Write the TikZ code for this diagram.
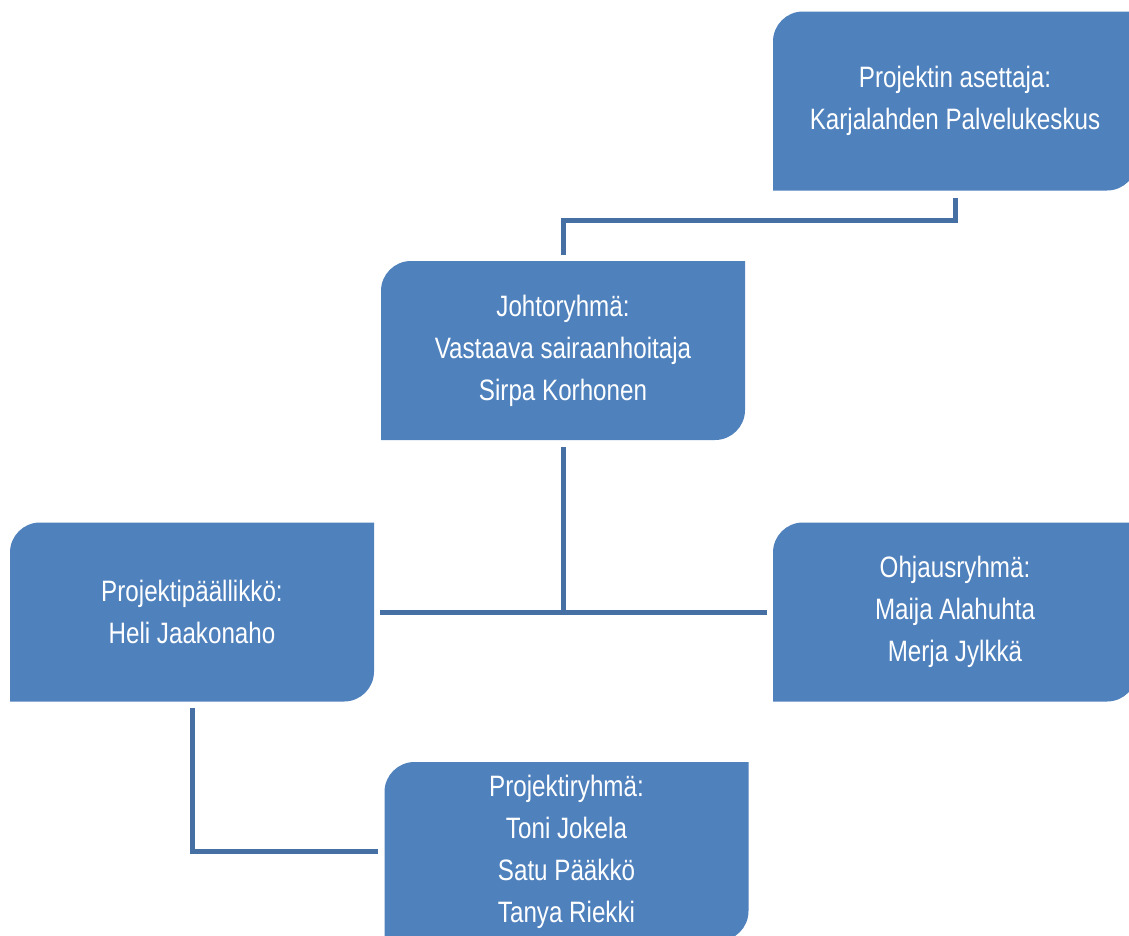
\documentclass[tikz,border=0pt]{standalone}
\usepackage{fontspec}
\setmainfont{Liberation Sans}[FakeStretch=0.82]
\usetikzlibrary{calc}
\definecolor{boxfill}{RGB}{79,129,189}
\definecolor{linecol}{RGB}{70,112,164}
\tikzset{
  orgbox/.style={minimum width=364pt, minimum height=179pt, inner sep=0pt,
    align=center, text=white, font=\fontsize{29.5}{42}\selectfont,
    path picture={\fill[boxfill]
      (path picture bounding box.south west)
      -- ([yshift=-30pt]path picture bounding box.north west)
      arc[start angle=180,end angle=90,radius=30pt]
      -- (path picture bounding box.north east)
      -- ([yshift=30pt]path picture bounding box.south east)
      arc[start angle=0,end angle=-90,radius=30pt]
      -- cycle;}},
  conn/.style={draw=linecol, line width=5pt, line join=miter}
}
\begin{document}
\begin{tikzpicture}[x=1pt,y=-1pt]
\clip (0,0) rectangle (1129,935);
\fill[white] (0,0) rectangle (1129,935);
\node[orgbox] (b1) at (955,101) {Projektin asettaja:\\Karjalahden Palvelukeskus};
\node[orgbox] (b2) at (563,350.5) {Johtoryhmä:\\Vastaava sairaanhoitaja\\Sirpa Korhonen};
\node[orgbox] (b3) at (192,612) {Projektipäällikkö:\\Heli Jaakonaho};
\node[orgbox] (b4) at (955,612) {Ohjausryhmä:\\Maija Alahuhta\\Merja Jylkkä};
\node[orgbox] (b5) at (566.5,851.5) {Projektiryhmä:\\Toni Jokela\\Satu Pääkkö\\Tanya Riekki};
\coordinate (m1) at (0,220);
\draw[conn] ([yshift=-7pt]b1.south) |- (m1 -| b2.north) -- ([yshift=6pt]b2.north);
\draw[conn] ([yshift=-7pt]b2.south) -- (b2.south |- b3.east);
\draw[conn] ([xshift=6pt]b3.east) -- ([xshift=-6pt]b4.west);
\draw[conn] ([yshift=-6pt]b3.south) |- ([xshift=-6pt]b5.west);
\end{tikzpicture}
\end{document}
